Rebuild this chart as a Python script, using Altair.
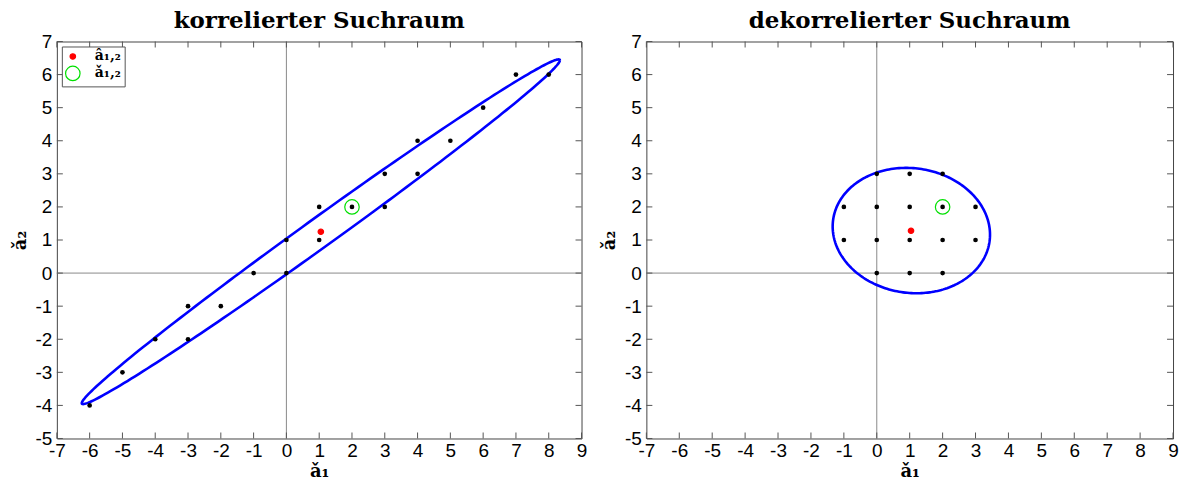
import numpy as np
import pandas as pd
import altair as alt

# ---------------- data ----------------
x_ticks = list(range(-7, 10))
y_ticks = list(range(-5, 8))

left_title = "korrelierter Suchraum"
right_title = "dekorrelierter Suchraum"

# integer grid points (correlated space)
left_a1 = [-6, -5, -4, -3, -3, -2, -1, 0, 0, 1, 1, 2, 3, 3, 4, 4, 5, 6, 7, 8]
left_a2 = [-4, -3, -2, -1, -2, -1, 0, 0, 1, 1, 2, 2, 2, 3, 3, 4, 4, 5, 6, 6]
# integer grid points (decorrelated space)
right_a1 = [0, 1, 2, -1, 0, 1, 2, 3, -1, 0, 1, 2, 3, 0, 1, 2]
right_a2 = [3, 3, 3, 2, 2, 2, 2, 2, 1, 1, 1, 1, 1, 0, 0, 0]

# float solution (red) and fixed solution (green circle)
left_float = [1.05, 1.25]
right_float = [1.04, 1.28]
left_fixed = [2, 2]
right_fixed = [2, 2]

# search-space ellipses: centre, half extents, correlation
left_ell = dict(cx=1.05, cy=1.25, sx=7.29, sy=5.21, rho=0.9945)
right_ell = dict(cx=1.05, cy=1.285, sx=2.39, sy=1.895, rho=-0.065)

lab_float = "â₁,₂"
lab_fixed = "ǎ₁,₂"


def ellipse_df(p, n=241):
    t = np.linspace(0, 2 * np.pi, n)
    x = p["cx"] + p["sx"] * np.cos(t)
    y = p["cy"] + p["sy"] * (p["rho"] * np.cos(t) + np.sqrt(1 - p["rho"] ** 2) * np.sin(t))
    return pd.DataFrame({"x": x, "y": y, "t": np.arange(n)})


def panel(title, xs, ys, flt, fix, ell, W, H):
    xscale = alt.Scale(domain=[-7, 9], nice=False, zero=False)
    yscale = alt.Scale(domain=[-5, 7], nice=False, zero=False)
    xaxis = alt.Axis(values=x_ticks, ticks=False, domain=False, grid=False,
                     labelExpr="datum.value + ''", labelFlush=False, labelOverlap=False,
                     labelPadding=3, title="ǎ₁", titlePadding=2)
    yaxis = alt.Axis(values=y_ticks, ticks=False, domain=False, grid=False,
                     labelExpr="datum.value + ''", labelFlush=False, labelOverlap=False,
                     labelPadding=5, title="ǎ₂", titlePadding=6)
    X = alt.X("x:Q", scale=xscale, axis=xaxis)
    Y = alt.Y("y:Q", scale=yscale, axis=yaxis)

    pts = pd.DataFrame({"x": xs, "y": ys})
    zx = pd.DataFrame({"x": [0]})
    zy = pd.DataFrame({"y": [0]})
    tx = pd.DataFrame({"x": x_ticks})
    ty = pd.DataFrame({"y": y_ticks})
    mk = pd.DataFrame({"x": [flt[0], fix[0]], "y": [flt[1], fix[1]],
                       "kind": [lab_float, lab_fixed]})

    zero_v = alt.Chart(zx).mark_rule(color="#8a8a8a", strokeWidth=1).encode(x=X)
    zero_h = alt.Chart(zy).mark_rule(color="#8a8a8a", strokeWidth=1).encode(y=Y)
    tick_b = alt.Chart(tx).mark_rule(color="#555", strokeWidth=1).encode(
        x=X, y=alt.value(H), y2=alt.value(H - 6))
    tick_t = alt.Chart(tx).mark_rule(color="#555", strokeWidth=1).encode(
        x=X, y=alt.value(0), y2=alt.value(6))
    tick_l = alt.Chart(ty).mark_rule(color="#555", strokeWidth=1).encode(
        y=Y, x=alt.value(0), x2=alt.value(6))
    tick_r = alt.Chart(ty).mark_rule(color="#555", strokeWidth=1).encode(
        y=Y, x=alt.value(W), x2=alt.value(W - 6))

    ellipse = alt.Chart(ellipse_df(ell)).mark_line(color="#0000ff", strokeWidth=2.6).encode(
        x=X, y=Y, order="t:Q")
    dots = alt.Chart(pts).mark_circle(color="black", size=22, opacity=1).encode(x=X, y=Y)

    dom = [lab_float, lab_fixed]
    markers = alt.Chart(mk).mark_point(shape="circle", strokeWidth=1.2, opacity=1).encode(
        x=X, y=Y,
        color=alt.Color("kind:N", scale=alt.Scale(domain=dom, range=["#ff0000", "#00e000"]),
                        legend=alt.Legend(title=None)),
        fill=alt.Fill("kind:N", scale=alt.Scale(domain=dom, range=["#ff0000", "transparent"]),
                      legend=alt.Legend(title=None)),
        size=alt.Size("kind:N", scale=alt.Scale(domain=dom, range=[30, 210]),
                      legend=alt.Legend(title=None)),
    )

    return alt.layer(zero_v, zero_h, tick_b, tick_t, tick_l, tick_r, ellipse, dots, markers).properties(
        width=W, height=H,
        title=alt.TitleParams(title, font="DejaVu Serif", fontSize=23, fontWeight="bold",
                              anchor="middle", offset=0, color="black"),
    )


left = panel(left_title, left_a1, left_a2, left_float, left_fixed, left_ell, 526, 398)
right = panel(right_title, right_a1, right_a2, right_float, right_fixed, right_ell, 528, 398)

chart = alt.hconcat(left, right, spacing=12).properties(
    padding={"left": 10, "top": 8, "right": 5, "bottom": 0}
).configure_view(
    stroke="#444", strokeWidth=1
).configure_axis(
    labelFont="Liberation Sans", labelFontSize=19, labelColor="black",
    titleFont="DejaVu Serif", titleFontSize=18, titleFontWeight="bold", titleColor="black"
).configure_legend(
    orient="top-left", offset=5, padding=3, strokeColor="#555", fillColor="white",
    labelFont="DejaVu Serif", labelFontSize=14, labelFontWeight="bold", labelColor="black",
    rowPadding=0, symbolStrokeWidth=1.2, labelOffset=14, cornerRadius=0
)

chart.save("out.html", embed_options={"renderer": "svg", "actions": False})
